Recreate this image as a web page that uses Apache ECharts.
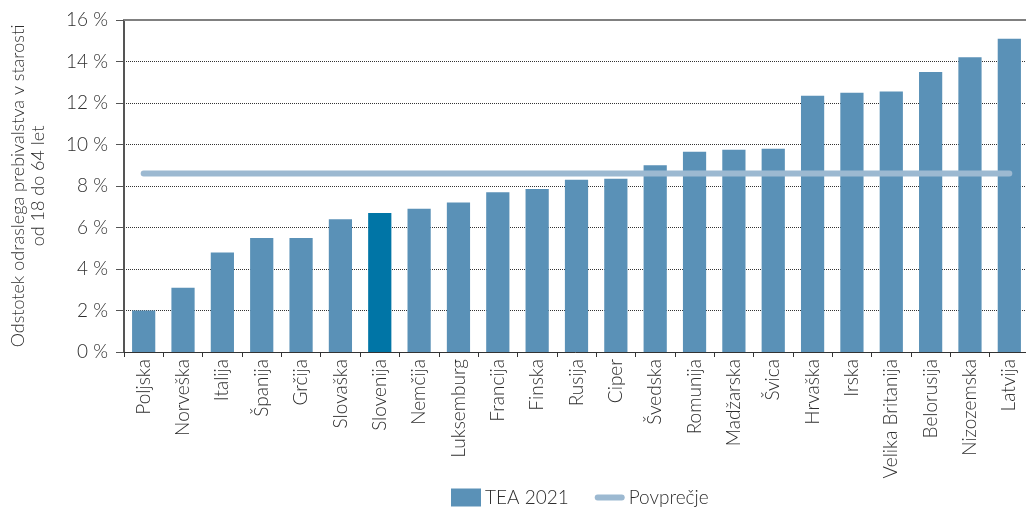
<!DOCTYPE html>
<html lang="sl">
<head>
    <meta charset="utf-8">
    <title>TEA 2021</title>
    <script src="https://cdn.jsdelivr.net/npm/echarts@6/dist/echarts.min.js"></script>
    <style>
        html, body { margin: 0; padding: 0; background: #fff; }
        #chart { width: 1026px; height: 510px; }
    </style>
</head>
<body>
<div id="chart"></div>
<script type="text/javascript">
    // podatki
    var countries = ['Poljska', 'Norveška', 'Italija', 'Španija', 'Grčija', 'Slovaška', 'Slovenija',
        'Nemčija', 'Luksemburg', 'Francija', 'Finska', 'Rusija', 'Ciper', 'Švedska', 'Romunija',
        'Madžarska', 'Švica', 'Hrvaška', 'Irska', 'Velika Britanija', 'Belorusija', 'Nizozemska', 'Latvija'];
    var tea2021 = [2.0, 3.1, 4.8, 5.5, 5.5, 6.4, 6.7, 6.9, 7.2, 7.7, 7.85, 8.3, 8.35, 9.0, 9.65,
        9.75, 9.8, 12.35, 12.5, 12.55, 13.5, 14.2, 15.1];
    var average = 8.6;
    var highlight = 'Slovenija';

    var fontFam = 'Lato';
    var textColor = '#2e2e2e';
    var fontSz = 19;

    var chart = echarts.init(document.getElementById('chart'));

    var option = {
        animation: false,
        textStyle: { fontFamily: fontFam, fontWeight: 300 },
        grid: { left: 124, right: -3, top: 20, bottom: 158, outerBoundsMode: 'none', containLabel: false },
        legend: {
            top: 488,
            left: 451,
            itemGap: 26,
            itemWidth: 30,
            itemHeight: 18,
            padding: 0,
            textStyle: { fontFamily: fontFam, fontWeight: 300, fontSize: fontSz, color: textColor, padding: [0, 0, 0, -1] },
            data: [
                { name: 'TEA 2021', icon: 'rect' },
                { name: 'Povprečje', icon: 'path://M3,0 L27,0 A3,3 0 0 1 27,6 L3,6 A3,3 0 0 1 3,0 Z' }
            ]
        },
        xAxis: [
            {
                type: 'category',
                data: countries,
                axisLine: { lineStyle: { color: '#333', width: 1 } },
                axisTick: { show: true, length: 5, lineStyle: { color: '#333' } },
                axisLabel: {
                    rotate: 90,
                    interval: 0,
                    margin: 7,
                    fontSize: fontSz,
                    fontFamily: fontFam,
                    fontWeight: 300,
                    color: textColor
                }
            },
            {
                type: 'category',
                position: 'top',
                data: countries,
                axisLine: { lineStyle: { color: '#808080', width: 2 } },
                axisTick: { show: false },
                axisLabel: { show: false }
            }
        ],
        yAxis: {
            type: 'value',
            min: 0,
            max: 16,
            interval: 2,
            name: 'Odstotek odraslega prebivalstva v starosti\nod 18 do 64 let',
            nameLocation: 'middle',
            nameGap: 76,
            nameTextStyle: { fontSize: fontSz - 1, fontFamily: fontFam, fontWeight: 300, color: textColor, lineHeight: 20 },
            axisLine: { show: true, lineStyle: { color: '#555', width: 2 } },
            axisTick: { show: true, length: 8, lineStyle: { color: '#555' } },
            axisLabel: {
                margin: 16,
                fontSize: fontSz,
                fontFamily: fontFam,
                fontWeight: 300,
                color: textColor,
                formatter: function (v) { return v + ' %'; }
            },
            splitLine: { show: true, lineStyle: { color: '#333', type: [1, 1], width: 1 } }
        },
        series: [
            {
                name: 'TEA 2021',
                type: 'bar',
                barWidth: '59%',
                itemStyle: { color: '#5a91b7' },
                data: tea2021.map(function (v, i) {
                    return countries[i] === highlight ? { value: v, itemStyle: { color: '#0075a6' } } : v;
                })
            },
            {
                name: 'Povprečje',
                type: 'line',
                showSymbol: false,
                symbol: 'none',
                itemStyle: { color: '#9cb9d1' },
                lineStyle: { color: '#9cb9d1', width: 6, cap: 'round' },
                data: countries.map(function () { return average; })
            }
        ]
    };

    chart.setOption(option);
</script>
</body>
</html>
